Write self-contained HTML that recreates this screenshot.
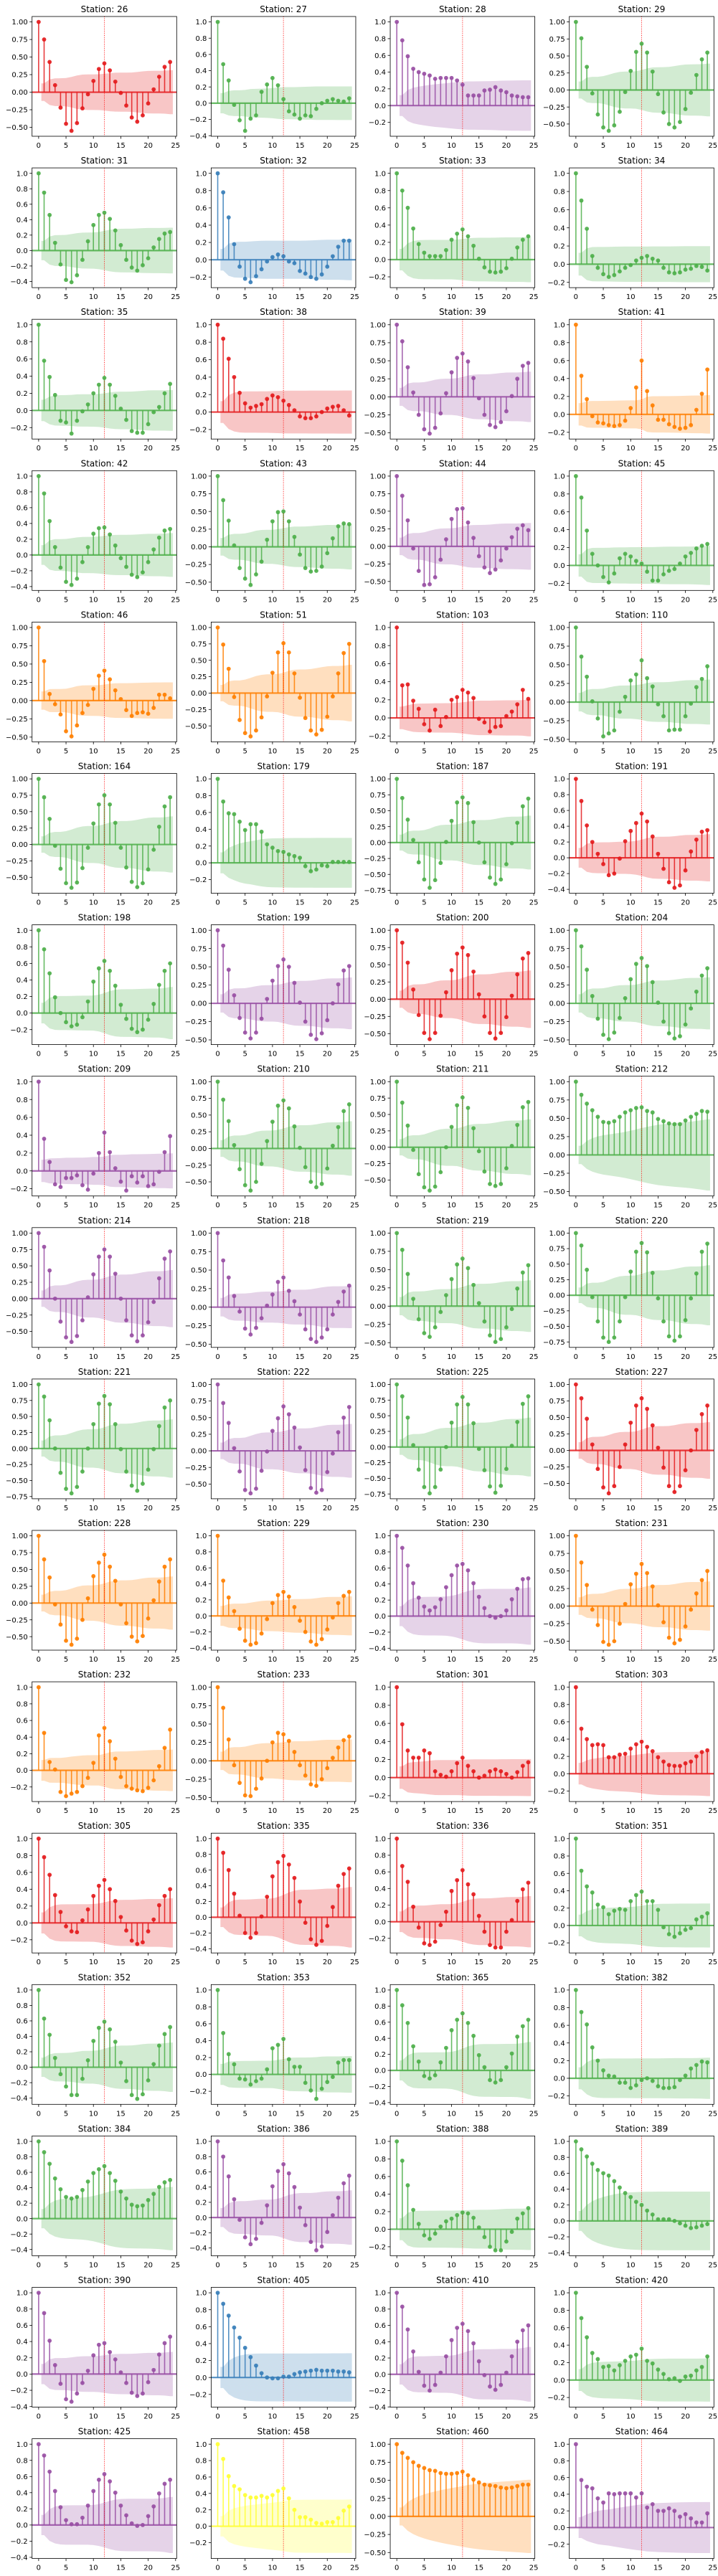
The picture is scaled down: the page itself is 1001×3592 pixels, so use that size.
<!DOCTYPE html>
<html><head><meta charset="utf-8"><title>ACF by station</title>
<style>
html,body{margin:0;padding:0;background:#fff;}
svg{display:block;font-family:"DejaVu Sans","Liberation Sans",sans-serif;}
</style></head>
<body>
<svg id="chart" xmlns="http://www.w3.org/2000/svg" width="1001" height="3592" viewBox="0 0 1001 3592"></svg>
<script>
const stationIds = [26,27,28,29,31,32,33,34,35,38,39,41,42,43,44,45,46,51,103,110,164,179,187,191,198,199,200,204,209,210,211,212,214,218,219,220,221,222,225,227,228,229,230,231,232,233,301,303,305,335,336,351,352,353,365,382,384,386,388,389,390,405,410,420,425,458,460,464];
const stationColors = ["red","green","purple","green","green","blue","green","green","green","red","purple","orange","green","green","purple","green","orange","orange","red","green","green","green","green","red","green","purple","red","green","purple","green","green","green","purple","purple","green","green","green","purple","green","red","orange","orange","purple","orange","orange","orange","red","red","red","red","red","green","green","green","green","green","green","purple","green","green","purple","blue","purple","green","purple","yellow","orange","purple"];
const lagTicks = [0,5,10,15,20,25];
const seasonalLag = 12;
const nObs = 246;
const acfValues = [
[1,.75,.43,.10,-.22,-.45,-.55,-.44,-.23,-.03,.16,.33,.41,.31,.15,-.01,-.19,-.36,-.42,-.33,-.16,.04,.22,.36,.43],
[1,.48,.28,-.02,-.21,-.34,-.19,-.15,.14,.23,.31,.22,.05,-.10,-.14,-.19,-.15,-.16,-.07,0,.03,.05,.03,.02,.06],
[1,.78,.59,.44,.40,.38,.36,.32,.33,.33,.33,.30,.25,.12,.12,.12,.18,.19,.22,.18,.16,.12,.11,.10,.10],
[1,.76,.34,-.05,-.36,-.55,-.60,-.52,-.32,-.03,.28,.56,.68,.55,.27,-.06,-.33,-.50,-.55,-.47,-.28,-.04,.22,.45,.55],
[1,.75,.46,.10,-.18,-.38,-.41,-.32,-.12,.12,.33,.46,.49,.41,.26,.07,-.12,-.22,-.26,-.19,-.10,.04,.15,.22,.24],
[1,.78,.49,.18,-.08,-.22,-.26,-.19,-.11,-.02,.03,.06,.04,-.02,-.04,-.13,-.16,-.20,-.22,-.17,-.08,.04,.15,.22,.22],
[1,.80,.60,.36,.18,.08,.04,.04,.04,.11,.23,.30,.35,.27,.16,.01,-.09,-.14,-.15,-.14,-.10,.01,.14,.23,.27],
[1,.70,.39,.09,-.04,-.11,-.14,-.12,-.08,-.04,-.01,.04,.07,.09,.06,.04,-.04,-.09,-.10,-.09,-.06,-.05,-.02,-.03,-.07],
[1,.58,.39,.18,-.12,-.14,-.27,-.12,-.01,.07,.20,.30,.38,.30,.17,.02,-.11,-.24,-.26,-.26,-.16,-.02,.04,.20,.31],
[1,.84,.61,.40,.22,.10,.05,.07,.09,.15,.19,.17,.13,.08,.02,-.05,-.07,-.07,-.05,.00,.04,.06,.07,.02,-.04],
[1,.77,.41,.06,-.25,-.45,-.51,-.43,-.23,.05,.34,.54,.60,.49,.26,-.02,-.25,-.39,-.42,-.35,-.20,.01,.25,.43,.47],
[1,.43,.17,-.02,-.09,-.10,-.12,-.13,-.12,-.07,.07,.30,.60,.26,.10,-.06,-.06,-.11,-.14,-.16,-.15,-.12,.05,.23,.50],
[1,.78,.43,.10,-.16,-.34,-.38,-.30,-.09,.10,.27,.34,.35,.26,.12,-.04,-.15,-.25,-.28,-.22,-.09,.07,.22,.31,.33],
[1,.66,.37,.02,-.30,-.45,-.54,-.39,-.21,.10,.36,.49,.50,.36,.14,-.11,-.30,-.35,-.34,-.28,-.09,.12,.29,.33,.32],
[1,.72,.37,-.03,-.35,-.55,-.54,-.44,-.19,.10,.39,.53,.54,.34,.12,-.14,-.30,-.38,-.33,-.20,-.03,.13,.25,.30,.23],
[1,.76,.39,.13,.00,-.13,-.19,-.09,.08,.13,.10,.05,.02,-.07,-.17,-.17,-.10,-.06,-.04,.02,.10,.14,.19,.22,.24],
[1,.54,.09,-.05,-.19,-.42,-.49,-.34,-.17,-.06,.16,.34,.41,.29,.14,.02,-.13,-.21,-.17,-.16,-.18,-.10,.08,.08,.03],
[1,.74,.37,-.06,-.41,-.61,-.66,-.57,-.37,-.05,.31,.62,.76,.62,.30,-.07,-.38,-.57,-.63,-.56,-.36,-.05,.30,.61,.75],
[1,.36,.37,.19,.10,-.07,-.14,.09,-.09,.01,.20,.23,.31,.28,.22,-.01,-.05,-.15,-.10,-.09,.02,.07,.15,.31,.21],
[1,.61,.34,.01,-.22,-.46,-.42,-.38,-.13,.07,.29,.37,.56,.32,.21,-.03,-.19,-.38,-.37,-.37,-.19,-.02,.20,.31,.48],
[1,.72,.39,-.02,-.37,-.59,-.66,-.58,-.36,-.05,.32,.61,.75,.61,.33,-.05,-.35,-.57,-.65,-.59,-.38,-.08,.27,.58,.72],
[1,.73,.59,.58,.49,.39,.46,.46,.37,.22,.18,.14,.13,.10,.08,.06,-.04,-.10,-.08,-.03,-.04,.01,.01,.01,.01],
[1,.70,.36,.04,-.31,-.58,-.71,-.59,-.32,.01,.34,.63,.71,.62,.32,.00,-.31,-.55,-.65,-.58,-.34,-.01,.31,.57,.69],
[1,.72,.41,.20,.05,-.08,-.22,-.20,-.01,.21,.34,.44,.56,.46,.27,.05,-.14,-.31,-.38,-.35,-.16,.08,.23,.33,.35],
[1,.77,.48,.19,.00,-.11,-.16,-.14,-.05,.14,.38,.54,.63,.51,.33,.10,-.07,-.19,-.23,-.20,-.08,.11,.34,.51,.60],
[1,.79,.46,.11,-.20,-.40,-.48,-.40,-.21,.06,.31,.51,.60,.50,.28,.01,-.25,-.43,-.49,-.41,-.23,.00,.26,.45,.51],
[1,.82,.53,.14,-.23,-.49,-.58,-.49,-.24,.10,.42,.66,.75,.64,.40,.07,-.25,-.49,-.57,-.49,-.26,.05,.36,.59,.67],
[1,.78,.46,.10,-.21,-.43,-.49,-.40,-.20,.07,.33,.54,.62,.51,.29,.01,-.25,-.41,-.48,-.45,-.29,-.07,.16,.38,.48],
[1,.36,.10,-.15,-.18,-.08,-.08,-.05,-.16,-.21,-.03,.20,.43,.21,.03,-.12,-.22,-.06,-.13,-.06,-.17,-.15,-.01,.21,.39],
[1,.73,.41,.05,-.31,-.55,-.63,-.50,-.23,.11,.40,.64,.72,.60,.33,.01,-.28,-.50,-.58,-.53,-.30,.04,.32,.56,.66],
[1,.68,.33,-.04,-.41,-.61,-.66,-.60,-.38,.00,.31,.64,.76,.60,.29,-.06,-.37,-.56,-.59,-.56,-.32,.02,.34,.61,.69],
[1,.82,.70,.61,.52,.45,.44,.46,.52,.58,.61,.64,.65,.60,.58,.49,.46,.43,.42,.42,.47,.52,.56,.60,.59],
[1,.79,.43,.00,-.35,-.59,-.66,-.57,-.33,.02,.37,.64,.75,.64,.38,.00,-.33,-.56,-.65,-.56,-.36,-.05,.31,.61,.72],
[1,.63,.40,.15,-.06,-.29,-.37,-.28,-.15,.02,.17,.34,.40,.22,.08,-.10,-.30,-.43,-.47,-.41,-.30,-.10,.07,.21,.29],
[1,.77,.44,.10,-.18,-.37,-.42,-.29,-.08,.15,.37,.57,.65,.52,.29,.04,-.21,-.40,-.49,-.45,-.29,-.04,.24,.46,.56],
[1,.80,.41,-.03,-.42,-.68,-.75,-.68,-.42,-.03,.38,.70,.84,.69,.36,-.05,-.42,-.66,-.73,-.66,-.40,-.05,.35,.70,.83],
[1,.81,.44,.00,-.38,-.63,-.70,-.60,-.36,.00,.38,.70,.82,.69,.38,-.01,-.36,-.58,-.66,-.55,-.33,-.01,.35,.64,.75],
[1,.72,.42,.04,-.31,-.59,-.64,-.57,-.30,-.01,.30,.49,.67,.55,.35,.05,-.29,-.56,-.63,-.59,-.32,-.04,.28,.50,.66],
[1,.81,.47,.03,-.36,-.64,-.74,-.64,-.36,.00,.39,.68,.80,.68,.38,-.03,-.37,-.63,-.73,-.62,-.35,.02,.40,.69,.81],
[1,.79,.48,.09,-.28,-.56,-.65,-.54,-.25,.09,.42,.68,.79,.63,.38,.04,-.26,-.54,-.63,-.54,-.30,.00,.31,.55,.68],
[1,.65,.38,-.02,-.32,-.56,-.62,-.53,-.25,.07,.40,.60,.72,.54,.33,-.02,-.30,-.50,-.57,-.49,-.23,.04,.32,.54,.65],
[1,.44,.23,.06,-.16,-.31,-.36,-.34,-.22,-.04,.16,.26,.30,.24,.11,-.06,-.20,-.32,-.36,-.29,-.17,-.02,.16,.25,.30],
[1,.85,.63,.41,.23,.12,.07,.11,.21,.36,.51,.63,.65,.57,.41,.24,.10,.00,-.02,.00,.07,.21,.34,.46,.47],
[1,.62,.30,-.05,-.27,-.51,-.55,-.50,-.25,.03,.31,.46,.60,.47,.28,.01,-.23,-.45,-.53,-.48,-.29,-.05,.18,.37,.50],
[1,.45,.10,.01,-.26,-.31,-.28,-.26,-.19,-.09,.09,.42,.51,.35,.14,-.08,-.19,-.22,-.24,-.25,-.21,-.12,.05,.27,.49],
[1,.72,.29,-.06,-.30,-.47,-.48,-.38,-.24,.00,.25,.38,.36,.27,.12,-.06,-.20,-.32,-.34,-.25,-.10,.04,.18,.28,.33],
[1,.59,.30,.22,.22,.30,.27,.07,.03,.01,.07,.16,.22,.13,.07,.00,.02,.07,.09,.07,.04,.00,.06,.13,.17],
[1,.52,.40,.33,.34,.33,.19,.19,.22,.23,.29,.34,.37,.31,.26,.19,.14,.10,.09,.09,.12,.14,.20,.25,.27],
[1,.78,.57,.33,.13,-.04,-.10,-.11,.03,.16,.32,.44,.51,.40,.26,.07,-.09,-.21,-.25,-.23,-.10,.04,.21,.32,.40],
[1,.82,.60,.30,.02,-.20,-.26,-.20,.01,.26,.52,.70,.78,.67,.50,.20,-.07,-.28,-.35,-.30,-.11,.13,.40,.55,.62],
[1,.67,.48,.18,-.07,-.26,-.28,-.24,-.04,.12,.37,.50,.62,.45,.33,.07,-.12,-.28,-.31,-.31,-.12,.02,.25,.39,.47],
[1,.63,.45,.38,.24,.21,.13,.17,.19,.18,.28,.35,.39,.28,.28,.18,-.02,-.10,-.13,-.09,-.05,-.03,.07,.10,.14],
[1,.63,.42,.12,-.09,-.25,-.36,-.36,-.15,.09,.34,.51,.59,.49,.33,.06,-.18,-.36,-.41,-.35,-.17,.04,.28,.43,.52],
[1,.49,.24,.12,-.05,-.06,-.12,-.08,-.05,.06,.31,.35,.42,.18,.09,.09,-.10,-.19,-.29,-.17,-.09,-.03,.14,.17,.17],
[1,.81,.59,.30,.11,-.07,-.10,-.06,.10,.28,.50,.63,.71,.59,.43,.19,.04,-.12,-.15,-.12,.04,.21,.42,.55,.63],
[1,.75,.61,.35,.20,.09,.03,.02,-.05,-.05,-.11,-.08,-.02,.00,-.03,-.09,-.11,-.11,-.10,-.02,.03,.11,.15,.19,.18],
[1,.86,.71,.52,.38,.28,.26,.28,.37,.48,.59,.64,.68,.59,.49,.35,.26,.18,.16,.17,.24,.32,.41,.47,.50],
[1,.80,.54,.24,-.03,-.26,-.35,-.28,-.07,.16,.41,.61,.70,.58,.40,.13,-.10,-.32,-.43,-.38,-.19,.03,.26,.45,.55],
[1,.78,.50,.22,.06,-.07,-.11,-.05,.03,.09,.12,.16,.19,.18,.13,.02,-.09,-.20,-.24,-.24,-.14,-.03,.12,.18,.24],
[1,.90,.81,.72,.64,.60,.57,.50,.42,.35,.30,.24,.20,.13,.08,.02,.02,.02,.00,-.03,-.06,-.09,-.08,-.06,-.04],
[1,.75,.41,.11,-.12,-.31,-.34,-.24,-.11,.04,.23,.36,.38,.27,.18,.02,-.11,-.23,-.27,-.24,-.10,.05,.24,.38,.46],
[1,.87,.73,.59,.47,.35,.24,.14,.05,.00,-.01,-.01,.01,.01,.04,.06,.07,.08,.09,.08,.08,.08,.07,.07,.06],
[1,.83,.55,.28,.03,-.14,-.20,-.13,.02,.22,.42,.57,.62,.53,.38,.16,-.01,-.15,-.19,-.13,.02,.22,.40,.54,.60],
[1,.71,.49,.31,.24,.15,.16,.11,.17,.22,.27,.29,.36,.22,.19,.12,.07,.01,.02,-.01,.04,.05,.11,.15,.27],
[1,.86,.66,.42,.22,.06,.01,.01,.09,.24,.42,.56,.63,.54,.40,.24,.12,.02,-.01,.00,.11,.23,.39,.51,.56],
[1,.82,.61,.49,.45,.38,.35,.35,.37,.35,.38,.43,.46,.34,.20,.11,.11,.08,.04,.03,.05,.05,.10,.19,.24],
[1,.88,.81,.75,.70,.67,.64,.63,.60,.59,.59,.60,.62,.57,.51,.47,.44,.43,.42,.40,.39,.40,.42,.44,.44],
[1,.57,.49,.47,.35,.30,.41,.40,.41,.41,.41,.36,.41,.24,.28,.20,.20,.23,.20,.13,.16,.11,.06,.06,.17]
];

const palette = {red:"#e41a1c",blue:"#377eb8",green:"#4daf4a",purple:"#984ea3",orange:"#ff7f00",yellow:"#ffff33"};
const NS = "http://www.w3.org/2000/svg";
const svg = document.getElementById('chart');
const AX_L0 = 44.7, COL_STEP = 249.67, AX_W = 201.6;
const AX_T0 = 23, ROW_STEP = 211.1, AX_H = 167;
const XMIN = -1.2, XMAX = 25.2;

function mk(tag, attrs, parent){
  const e = document.createElementNS(NS, tag);
  for (const k in attrs) e.setAttribute(k, attrs[k]);
  parent.appendChild(e);
  return e;
}
function fmt(v, dec){
  const s = Math.abs(v).toFixed(dec);
  return (v < -1e-9 ? "\u2212" : "") + s;
}
function niceTicks(lo, hi, nbins){
  const range = hi - lo;
  const raw = range / nbins;
  const mag = Math.pow(10, Math.floor(Math.log10(raw)));
  const steps = [1,2,2.5,5,10];
  let step = 10*mag;
  for (const s of steps){ if (s*mag >= raw - 1e-12){ step = s*mag; break; } }
  const ticks = [];
  const start = Math.ceil(lo/step - 1e-9);
  for (let i = start; i*step <= hi + 1e-9; i++) ticks.push(Math.round(i*step*1e6)/1e6);
  let dec = 0;
  while (dec < 4 && Math.abs(step*Math.pow(10,dec) - Math.round(step*Math.pow(10,dec))) > 1e-6) dec++;
  return {ticks, dec};
}

stationIds.forEach(function(sid, idx){
  const vals = acfValues[idx];
  const color = palette[stationColors[idx]];
  const col = idx % 4, row = Math.floor(idx / 4);
  const L = AX_L0 + col*COL_STEP, T = AX_T0 + row*ROW_STEP;

  // confidence band half-widths (derived from values)
  const half = [];
  let cum = 0;
  for (let k = 1; k < vals.length; k++){
    const v = (k === 1) ? 1/nObs : (1 + 2*cum)/nObs;
    half.push(1.96*Math.sqrt(v));
    cum += vals[k]*vals[k];
  }
  let dmin = 0, dmax = 0;
  vals.forEach(function(v){ dmin = Math.min(dmin, v); dmax = Math.max(dmax, v); });
  half.forEach(function(h){ dmin = Math.min(dmin, -h); dmax = Math.max(dmax, h); });
  const pad = (dmax - dmin)*0.05;
  const YMIN = dmin - pad, YMAX = dmax + pad;
  const xs = function(x){ return L + (x - XMIN)/(XMAX - XMIN)*AX_W; };
  const ys = function(y){ return T + (YMAX - y)/(YMAX - YMIN)*AX_H; };

  const g = mk('g', {}, svg);
  
  

  const title = mk('text', {x: L + AX_W/2, y: T - 6, 'text-anchor':'middle', 'font-size':'12', fill:'#000'}, g);
  title.textContent = 'Station: ' + sid;
  
  

  // band
  const bx = [0.5];
  for (let k = 1; k < half.length - 1; k++) bx.push(k + 1);
  bx[0] = 0.5;
  const pts = [];
  const bandX = half.map(function(h, i){ return i === 0 ? 0.5 : (i === half.length - 1 ? 24.5 : i + 1); });
  bandX[0] = 0.5;
  // lag k band uses half[k-1]; position at lag k (first at 0.5, last at 24.5)
  const posX = half.map(function(h, i){ const lag = i + 1; return lag === 1 ? 0.5 : (lag === half.length ? 24.5 : lag); });
  // ensure lag 1 also plotted at 1
  const upper = [], lower = [];
  half.forEach(function(h, i){
    const lag = i + 1;
    if (lag === 1){ upper.push([0.5, h]); upper.push([1, h]); }
    else if (lag === half.length){ upper.push([lag, h]); upper.push([24.5, h]); }
    else upper.push([lag, h]);
  });
  upper.forEach(function(p){ pts.push(xs(p[0]).toFixed(2) + ',' + ys(p[1]).toFixed(2)); });
  for (let i = upper.length - 1; i >= 0; i--) pts.push(xs(upper[i][0]).toFixed(2) + ',' + ys(-upper[i][1]).toFixed(2));
  const band = mk('polygon', {points: pts.join(' '), fill: color, 'fill-opacity':'0.25', stroke:'none'}, g);
  
  

  // clip for lines
  const clipId = 'clip' + idx;
  const cp = mk('clipPath', {id: clipId}, g);
  mk('rect', {x: L, y: T, width: AX_W, height: AX_H}, cp);

  // baseline
  const base = mk('line', {x1: L, x2: L + AX_W, y1: ys(0), y2: ys(0), stroke: color, 'stroke-width':'2.2', 'stroke-opacity':'0.85'}, g);
  
  

  // stems
  vals.forEach(function(v, lag){
    const s = mk('line', {x1: xs(lag), x2: xs(lag), y1: ys(0), y2: ys(v), stroke: color, 'stroke-width':'1.6', 'stroke-opacity':'0.85'}, g);
    
    
  });

  // seasonal line
  const vl = mk('line', {x1: xs(seasonalLag), x2: xs(seasonalLag), y1: T, y2: T + AX_H, stroke:'#ff0000', 'stroke-width':'0.9', 'stroke-dasharray':'1,1.6'}, g);
  
  

  // markers
  vals.forEach(function(v, lag){
    const c = mk('circle', {cx: xs(lag), cy: ys(v), r: '2.9', fill: color, 'fill-opacity':'0.92'}, g);
    
    
  });

  // frame
  const fr = mk('rect', {x: L, y: T, width: AX_W, height: AX_H, fill:'none', stroke:'#000', 'stroke-width':'0.8'}, g);
  
  

  // y ticks
  const yt = niceTicks(YMIN, YMAX, 8);
  yt.ticks.forEach(function(t){
    const y = ys(t);
    mk('line', {x1: L - 3.5, x2: L, y1: y, y2: y, stroke:'#000', 'stroke-width':'0.8'}, g);
    const lb = mk('text', {x: L - 6, y: y + 3.6, 'text-anchor':'end', 'font-size':'10', fill:'#000'}, g);
    lb.textContent = fmt(t, yt.dec);
    
    
  });
  // x ticks
  lagTicks.forEach(function(t){
    const x = xs(t);
    mk('line', {x1: x, x2: x, y1: T + AX_H, y2: T + AX_H + 3.5, stroke:'#000', 'stroke-width':'0.8'}, g);
    const lb = mk('text', {x: x, y: T + AX_H + 16, 'text-anchor':'middle', 'font-size':'10', fill:'#000'}, g);
    lb.textContent = String(t);
    
    
  });
});
</script>
</body></html>
